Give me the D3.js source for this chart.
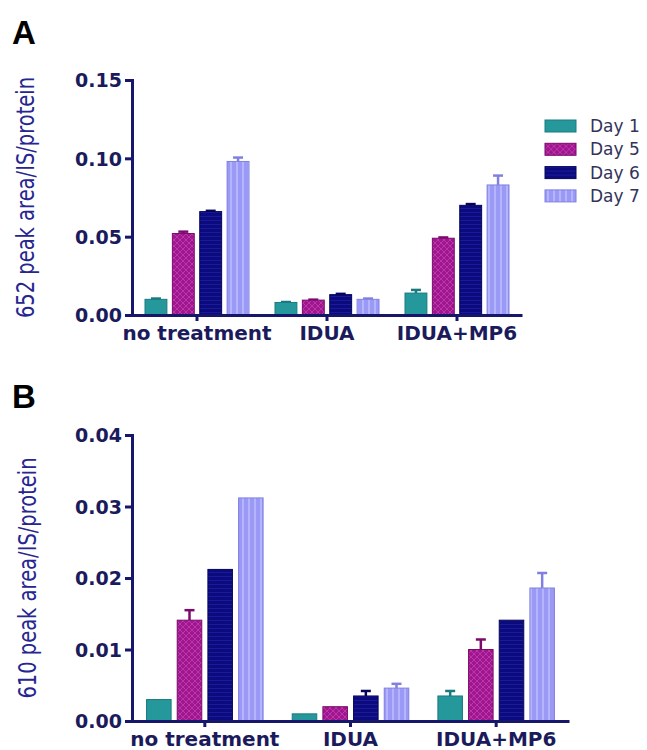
<!DOCTYPE html>
<html lang="en">
<head>
  <meta charset="UTF-8">
  <title>652 / 610 peak area</title>
  <script src="https://d3js.org/d3.v7.min.js"></script>
  <style>
    body { margin: 0; background: #fff; }
    .tick-label { font-family: "DejaVu Sans", sans-serif; font-weight: bold; font-size: 19px; fill: #1b1b5c; }
    .cat-label { font-family: "DejaVu Sans", sans-serif; font-weight: bold; font-size: 20px; fill: #1b1b5c; }
    .y-title { font-family: "DejaVu Sans", sans-serif; font-size: 19.5px; fill: #262690; }
    .legend text { font-family: "DejaVu Sans", sans-serif; font-size: 17px; fill: #33335a; }
    .panel-letter { font-family: "Liberation Sans", Arial, sans-serif; font-weight: bold; font-size: 33px; fill: #000; }
  </style>
</head>
<body>
  <svg id="svg" width="647" height="750"></svg>
  <script>
    // categories and series
    var categories = ['no treatment', 'IDUA', 'IDUA+MP6']
    var days = ['Day 1', 'Day 5', 'Day 6', 'Day 7']

    // panel A: 652 peak area/IS/protein (mean per category)
    var aDay1 = [0.010, 0.008, 0.014]
    var aDay5 = [0.052, 0.0095, 0.049]
    var aDay6 = [0.066, 0.013, 0.070]
    var aDay7 = [0.098, 0.010, 0.083]
    // upper error
    var aErr1 = [0.0005, 0.0003, 0.002]
    var aErr5 = [0.0012, 0.0003, 0.0005]
    var aErr6 = [0.0005, 0.0005, 0.0008]
    var aErr7 = [0.0025, 0.0005, 0.006]
    var aTicks = [0, 0.05, 0.10, 0.15]

    // panel B: 610 peak area/IS/protein
    var bDay1 = [0.003, 0.001, 0.0035]
    var bDay5 = [0.0141, 0.002, 0.010]
    var bDay6 = [0.0212, 0.0035, 0.0141]
    var bDay7 = [0.0312, 0.0046, 0.0186]
    var bErr1 = [0, 0, 0.0007]
    var bErr5 = [0.0014, 0, 0.0014]
    var bErr6 = [0, 0.0007, 0]
    var bErr7 = [0, 0.0006, 0.0021]
    var bTicks = [0, 0.01, 0.02, 0.03, 0.04]

    var colors = ['#25989c', '#a0168e', '#0b0b7e', '#9a9af6']
    var strokes = ['#1a7a80', '#7a0a6c', '#05055a', '#8080e0']
    var axisColor = '#16166a'

    var svg = d3.select('#svg')

    // patterns for fills
    var defs = svg.append('defs')
    var p1 = defs.append('pattern').attr('id', 'pat0').attr('width', 4).attr('height', 4).attr('patternUnits', 'userSpaceOnUse')
    p1.append('rect').attr('width', 4).attr('height', 4).attr('fill', colors[0])
    var p5 = defs.append('pattern').attr('id', 'pat1').attr('width', 6).attr('height', 6).attr('patternUnits', 'userSpaceOnUse')
    p5.append('rect').attr('width', 6).attr('height', 6).attr('fill', colors[1])
    p5.append('path').attr('d', 'M0,0L6,6M6,0L0,6').attr('stroke', '#c040b0').attr('stroke-width', 1).attr('opacity', 0.8)
    var p6 = defs.append('pattern').attr('id', 'pat2').attr('width', 4).attr('height', 4).attr('patternUnits', 'userSpaceOnUse')
    p6.append('rect').attr('width', 4).attr('height', 4).attr('fill', colors[2])
    p6.append('line').attr('x1', 0).attr('x2', 4).attr('y1', 0.5).attr('y2', 0.5).attr('stroke', '#1a1a9a').attr('stroke-width', 1)
    var p7 = defs.append('pattern').attr('id', 'pat3').attr('width', 6).attr('height', 6).attr('patternUnits', 'userSpaceOnUse')
    p7.append('rect').attr('width', 6).attr('height', 6).attr('fill', colors[3])
    p7.append('line').attr('x1', 3).attr('x2', 3).attr('y1', 0).attr('y2', 6).attr('stroke', '#b4b4ff').attr('stroke-width', 2)

    function drawPanel(opt) {
      var g = svg.append('g')

      var x0 = d3.scaleBand()
        .domain(categories)
        .range([opt.left, opt.right])
        .paddingInner(0.2)
        .paddingOuter(0.1)
      var x1 = d3.scaleBand()
        .domain(days)
        .range([0, x0.bandwidth()])
        .paddingInner(0.2)
      var y = d3.scaleLinear()
        .domain([0, opt.max])
        .range([opt.bottom, opt.top])

      var rows = []
      opt.series.forEach(function (vals, si) {
        vals.forEach(function (v, ci) {
          rows.push({ cat: categories[ci], day: days[si], si: si, v: v, e: opt.errs[si][ci] })
        })
      })

      // error bars (upper only)
      var eb = g.selectAll('.err').data(rows.filter(function (d) { return d.e > 0 })).enter().append('g')
      eb.append('line')
        .attr('x1', function (d) { return x0(d.cat) + x1(d.day) + x1.bandwidth() / 2 })
        .attr('x2', function (d) { return x0(d.cat) + x1(d.day) + x1.bandwidth() / 2 })
        .attr('y1', function (d) { return y(d.v) })
        .attr('y2', function (d) { return y(d.v + d.e) })
        .attr('stroke', function (d) { return strokes[d.si] })
        .attr('stroke-width', 2.5)
      eb.append('line')
        .attr('x1', function (d) { return x0(d.cat) + x1(d.day) + x1.bandwidth() / 2 - 5 })
        .attr('x2', function (d) { return x0(d.cat) + x1(d.day) + x1.bandwidth() / 2 + 5 })
        .attr('y1', function (d) { return y(d.v + d.e) })
        .attr('y2', function (d) { return y(d.v + d.e) })
        .attr('stroke', function (d) { return strokes[d.si] })
        .attr('stroke-width', 2.5)

      g.selectAll('.bar').data(rows).enter().append('rect')
        .attr('x', function (d) { return x0(d.cat) + x1(d.day) })
        .attr('y', function (d) { return y(d.v) })
        .attr('width', x1.bandwidth())
        .attr('height', function (d) { return opt.bottom - y(d.v) })
        .attr('fill', function (d) { return 'url(#pat' + d.si + ')' })
        .attr('stroke', function (d) { return strokes[d.si] })
        .attr('stroke-width', 1)

      // y axis
      var yAxis = d3.axisLeft(y).tickValues(opt.ticks).tickFormat(d3.format(opt.fmt)).tickSize(7).tickPadding(3)
      var ya = g.append('g').attr('transform', 'translate(' + opt.left + ',0)').call(yAxis)
      ya.select('.domain').attr('stroke', axisColor).attr('stroke-width', 3)
      ya.selectAll('.tick line').attr('stroke', axisColor).attr('stroke-width', 3)
      ya.selectAll('.tick text').attr('class', 'tick-label').attr('dy', '0.36em')

      // x axis
      var xAxis = d3.axisBottom(x0).tickSize(6).tickSizeOuter(0).tickPadding(4)
      var xa = g.append('g').attr('transform', 'translate(0,' + opt.bottom + ')').call(xAxis)
      xa.select('.domain').attr('stroke', axisColor).attr('stroke-width', 3)
      xa.selectAll('.tick line').attr('stroke', axisColor).attr('stroke-width', 3)
      xa.selectAll('.tick text').attr('class', 'cat-label').attr('dy', '0.71em').attr('y', 11)

      // y title (stretched across to match the wide glyphs of the original)
      g.append('text')
        .attr('class', 'y-title')
        .attr('transform', 'translate(' + opt.titleX + ',' + (opt.top + opt.bottom) / 2 + ') rotate(-90) scale(1,1.25)')
        .attr('text-anchor', 'middle')
        .attr('dy', '0.35em')
        .text(opt.title)

      // panel letter
      g.append('text')
        .attr('class', 'panel-letter')
        .attr('x', 12)
        .attr('y', opt.letterY)
        .text(opt.letter)
    }

    drawPanel({
      left: 132, right: 522, top: 80, bottom: 315, max: 0.15,
      series: [aDay1, aDay5, aDay6, aDay7],
      errs: [aErr1, aErr5, aErr6, aErr7],
      ticks: aTicks, fmt: '.2f',
      title: '652 peak area/IS/protein', titleX: 25,
      letter: 'A', letterY: 44
    })

    drawPanel({
      left: 132, right: 569, top: 435, bottom: 721, max: 0.04,
      series: [bDay1, bDay5, bDay6, bDay7],
      errs: [bErr1, bErr5, bErr6, bErr7],
      ticks: bTicks, fmt: '.2f',
      title: '610 peak area/IS/protein', titleX: 27,
      letter: 'B', letterY: 408
    })

    // legend
    var lg = svg.append('g').attr('class', 'legend').attr('transform', 'translate(545,120)')
    var item = lg.selectAll('g').data(days).enter().append('g')
      .attr('transform', function (d, i) { return 'translate(0,' + (i * 23.3) + ')' })
    item.append('rect')
      .attr('width', 31).attr('height', 12)
      .attr('fill', function (d, i) { return 'url(#pat' + i + ')' })
      .attr('stroke', function (d, i) { return strokes[i] })
    item.append('text')
      .attr('x', 45).attr('y', 6).attr('dy', '0.36em')
      .text(function (d) { return d })
  </script>
</body>
</html>
